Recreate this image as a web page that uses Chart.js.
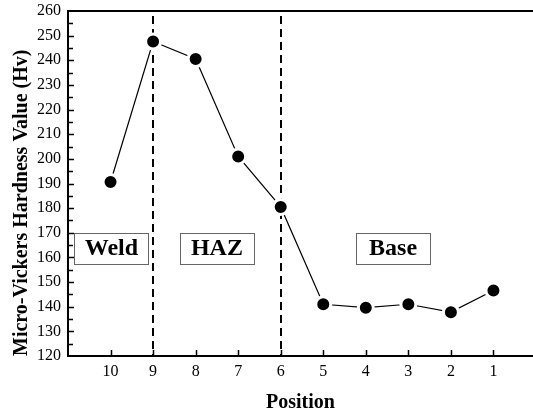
<!DOCTYPE html>
<html>
<head>
<meta charset="utf-8">
<script src="https://cdn.jsdelivr.net/npm/chart.js@4/dist/chart.umd.min.js"></script>
<style>
  html, body { margin: 0; padding: 0; background: #fff; }
  canvas { display: block; }
</style>
</head>
<body>
<canvas id="hardness" width="533" height="411"></canvas>
<script>
// Hardness profile across the weld (positions read right-to-left)
const positions = [10, 9, 8, 7, 6, 5, 4, 3, 2, 1];
const hardness = [190.6, 247.6, 240.5, 201, 180.5, 141, 139.6, 141, 137.8, 146.6];
const xTicks = [10, 9, 8, 7, 6, 5, 4, 3, 2, 1];
const yMin = 120, yMax = 260, yStep = 10;

// zone boundaries and zone labels
const boundaries = [9, 6];
const zoneNames = ['Weld', 'HAZ', 'Base'];
const zoneCenters = [9.98, 7.5, 3.36];

const serif = '"Liberation Serif", "Times New Roman", serif';

// frame, inward ticks, dashed boundaries, zone boxes
const extras = {
  id: 'extras',
  beforeDatasetsDraw(chart) {
    const {ctx, chartArea: a, scales: {x, y}} = chart;
    ctx.save();
    ctx.strokeStyle = '#000';
    ctx.lineWidth = 2;
    ctx.setLineDash([8, 5]);
    boundaries.forEach(b => {
      const px = Math.round(x.getPixelForValue(b));
      ctx.beginPath();
      ctx.moveTo(px, a.top + 5);
      ctx.lineTo(px, a.bottom);
      ctx.stroke();
    });
    ctx.setLineDash([]);

    // zone boxes
    ctx.font = 'bold 24px ' + serif;
    ctx.textAlign = 'center';
    ctx.textBaseline = 'middle';
    const yTop = y.getPixelForValue(170);
    const yBot = y.getPixelForValue(157.5);
    zoneNames.forEach((name, i) => {
      const cx = x.getPixelForValue(zoneCenters[i]);
      const w = 74;
      ctx.fillStyle = '#fff';
      ctx.fillRect(cx - w / 2, yTop, w, yBot - yTop);
      ctx.strokeStyle = '#666';
      ctx.lineWidth = 1;
      ctx.strokeRect(Math.round(cx - w / 2) + 0.5, Math.round(yTop) + 0.5, w, Math.round(yBot - yTop));
      ctx.fillStyle = '#000';
      ctx.fillText(name, cx, (yTop + yBot) / 2 + 1);
    });
    ctx.restore();
  },
  afterDraw(chart) {
    const {ctx, chartArea: a, scales: {x, y}} = chart;
    ctx.save();
    ctx.strokeStyle = '#000';
    ctx.lineWidth = 2;
    ctx.beginPath();
    ctx.moveTo(a.left, a.top);
    ctx.lineTo(a.right, a.top);
    ctx.moveTo(a.left, a.top - 1);
    ctx.lineTo(a.left, a.bottom + 1);
    ctx.moveTo(a.left - 1, a.bottom);
    ctx.lineTo(a.right, a.bottom);
    ctx.stroke();

    ctx.lineWidth = 1.5;
    ctx.beginPath();
    for (let v = yMin + yStep / 2; v < yMax; v += yStep / 2) {
      const py = Math.round(y.getPixelForValue(v)) + 0.5;
      const len = (v % yStep === 0) ? 6 : 5;
      ctx.moveTo(a.left, py);
      ctx.lineTo(a.left + len, py);
    }
    xTicks.forEach(v => {
      const px = Math.round(x.getPixelForValue(v)) + 0.5;
      ctx.moveTo(px, a.bottom);
      ctx.lineTo(px, a.bottom - 6);
    });
    ctx.stroke();
    ctx.restore();
  }
};

new Chart(document.getElementById('hardness'), {
  type: 'line',
  data: {
    datasets: [{
      data: positions.map((p, i) => ({x: p, y: hardness[i]})),
      borderColor: '#000',
      borderWidth: 1.2,
      backgroundColor: '#000',
      pointRadius: 7.5,
      pointBorderColor: '#fff',
      pointBorderWidth: 3,
      pointBackgroundColor: '#000',
      tension: 0
    }]
  },
  options: {
    responsive: false,
    animation: false,
    layout: {autoPadding: false, padding: {top: 11, left: 0, right: 0, bottom: 0}},
    plugins: {legend: {display: false}, tooltip: {enabled: false}},
    scales: {
      x: {
        type: 'linear',
        reverse: true,
        min: 0.07,
        max: 11,
        afterBuildTicks: s => { s.ticks = xTicks.map(v => ({value: v})); },
        afterFit: s => { s.height = 55; s.paddingLeft = 0; s.paddingRight = 0; },
        grid: {display: false, drawTicks: false},
        border: {display: false},
        ticks: {
          padding: 6,
          color: '#000',
          font: {family: serif, size: 16},
          maxRotation: 0,
          autoSkip: false
        },
        title: {
          display: true,
          text: 'Position',
          color: '#000',
          font: {family: serif, size: 20, weight: 'bold'},
          padding: {top: 0, bottom: -4}
        }
      },
      y: {
        min: yMin,
        max: yMax,
        afterFit: s => { s.width = 68; s.paddingTop = 0; s.paddingBottom = 0; },
        grid: {display: false, drawTicks: false},
        border: {display: false},
        ticks: {
          stepSize: yStep,
          padding: 7,
          color: '#000',
          font: {family: serif, size: 16}
        },
        title: {
          display: true,
          align: 'start',
          text: 'Micro-Vickers Hardness Value (Hv)',
          color: '#000',
          font: {family: serif, size: 20, weight: 'bold'},
          padding: {top: 10, bottom: 0}
        }
      }
    }
  },
  plugins: [extras]
});
</script>
</body>
</html>
